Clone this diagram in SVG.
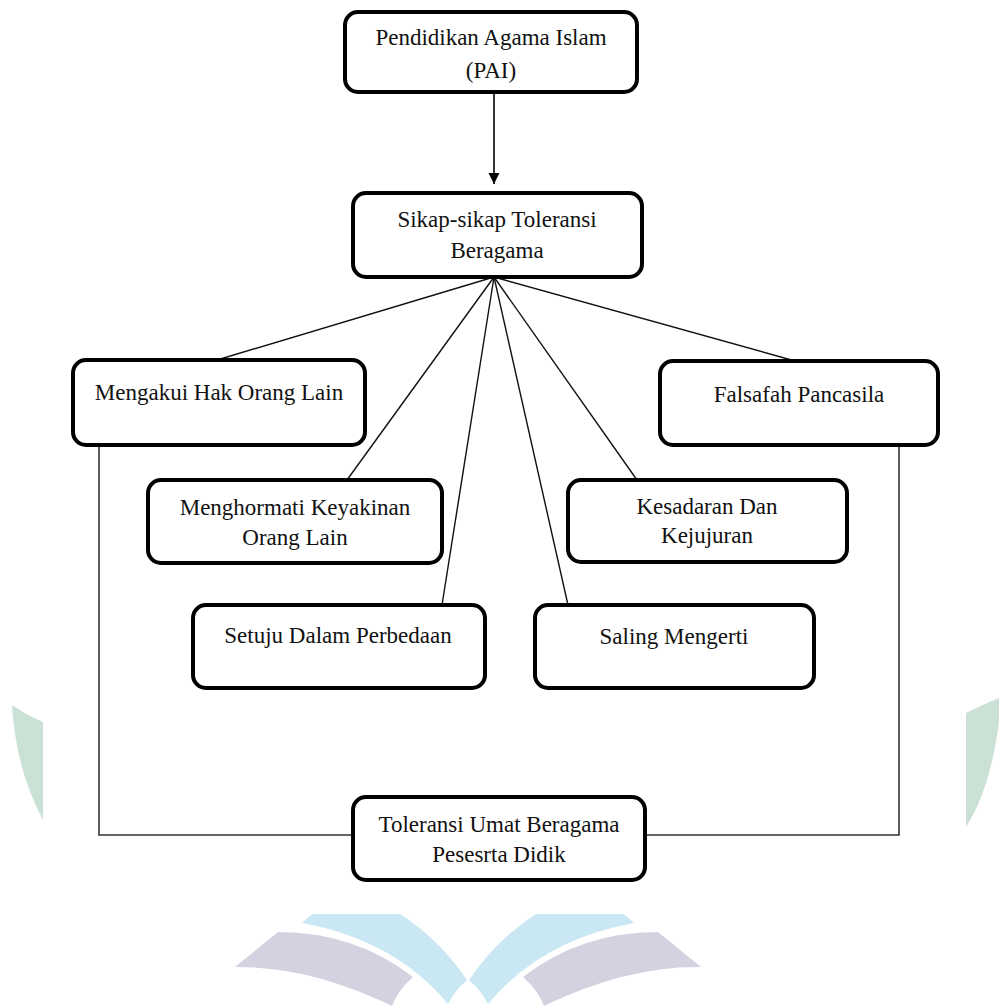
<svg xmlns="http://www.w3.org/2000/svg" width="999" height="1006" viewBox="0 0 999 1006">
<style>
.box{fill:#fff;stroke:#000;stroke-width:4}
.t{font-family:"Liberation Serif","Times New Roman",serif;font-size:23px;fill:#111;text-anchor:middle}
.fan{stroke:#111;stroke-width:1.4;fill:none}
.side{stroke:#333;stroke-width:1.6;fill:none}
.g{fill:#cbe1d5}
.b{fill:#c9e8f4}
.p{fill:#d5d1e1}
</style>
<defs>
<marker id="arr" markerWidth="12" markerHeight="12" refX="11" refY="6" orient="auto" markerUnits="userSpaceOnUse">
<path d="M0,0.5 L11,6 L0,11.5 Z" fill="#000"/>
</marker>
</defs>
<rect width="999" height="1006" fill="#fff"/>
<g id="watermark">
<path class="g" d="M12,705 Q28,716 43,722 L43,820 Q16,770 12,705 Z"/>
<path class="g" d="M966,713 Q984,704 999,698 L999,722 Q990,790 966,827 Z"/>
<path class="b" d="M302,923 L312,914 L400,914 Q440,940 467,980 Q455,990 448,1004 Q395,940 302,923 Z"/>
<path class="p" d="M235,967 L278,932 Q355,932 413,977 Q398,990 392,1006 Q310,966 235,967 Z"/>
<path class="b" d="M634,923 L624,914 L536,914 Q496,940 469,980 Q481,990 488,1004 Q541,940 634,923 Z"/>
<path class="p" d="M701,967 L658,932 Q581,932 523,977 Q538,990 544,1006 Q626,966 701,967 Z"/>
</g>
<g id="connectors">
<line x1="494" y1="92" x2="494" y2="184" stroke="#000" stroke-width="1.6" marker-end="url(#arr)"/>
<line class="fan" x1="494" y1="277" x2="217" y2="360"/>
<line class="fan" x1="494" y1="277" x2="347" y2="480"/>
<line class="fan" x1="494" y1="277" x2="442" y2="605"/>
<line class="fan" x1="494" y1="277" x2="568" y2="605"/>
<line class="fan" x1="494" y1="277" x2="637" y2="480"/>
<line class="fan" x1="494" y1="277" x2="795" y2="361"/>
<polyline class="side" points="99,445 99,835 353,835"/>
<polyline class="side" points="899,445 899,835 645,835"/>
</g>
<g id="pai">
<rect class="box" x="345" y="12" width="292" height="80" rx="13"/>
<text class="t" x="491" y="45">Pendidikan Agama Islam</text>
<text class="t" x="491" y="78">(PAI)</text>
</g>
<g id="sikap">
<rect class="box" x="353" y="193" width="289" height="84" rx="13"/>
<text class="t" x="497" y="227">Sikap-sikap Toleransi</text>
<text class="t" x="497" y="258">Beragama</text>
</g>
<g id="mengakui">
<rect class="box" x="73" y="360" width="292" height="85" rx="13"/>
<text class="t" x="219" y="400">Mengakui Hak Orang Lain</text>
</g>
<g id="falsafah">
<rect class="box" x="660" y="361" width="278" height="84" rx="13"/>
<text class="t" x="799" y="402">Falsafah Pancasila</text>
</g>
<g id="menghormati">
<rect class="box" x="148" y="480" width="294" height="83" rx="13"/>
<text class="t" x="295" y="515">Menghormati Keyakinan</text>
<text class="t" x="295" y="545">Orang Lain</text>
</g>
<g id="kesadaran">
<rect class="box" x="568" y="480" width="279" height="82" rx="13"/>
<text class="t" x="707" y="514">Kesadaran Dan</text>
<text class="t" x="707" y="543">Kejujuran</text>
</g>
<g id="setuju">
<rect class="box" x="193" y="605" width="292" height="83" rx="13"/>
<text class="t" x="338" y="643">Setuju Dalam Perbedaan</text>
</g>
<g id="saling">
<rect class="box" x="535" y="605" width="279" height="83" rx="13"/>
<text class="t" x="674" y="644">Saling Mengerti</text>
</g>
<g id="toleransi">
<rect class="box" x="353" y="797" width="292" height="83" rx="13"/>
<text class="t" x="499" y="832">Toleransi Umat Beragama</text>
<text class="t" x="499" y="862">Pesesrta Didik</text>
</g>
</svg>
